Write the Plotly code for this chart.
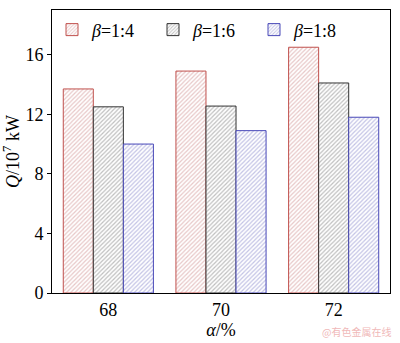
import plotly.graph_objects as go

categories = ["68", "70", "72"]
series_names = ["<i>β</i>=1:4", "<i>β</i>=1:6", "<i>β</i>=1:8"]
q_b4 = [13.7, 14.9, 16.5]
q_b6 = [12.5, 12.55, 14.1]
q_b8 = [10.0, 10.9, 11.8]
y_ticks = [0, 4, 8, 12, 16]

line_colors = ["#c0504d", "#333333", "#4848b8"]
hatch_colors = ["#d09090", "#808080", "#8888cc"]

fig = go.Figure()
for name, vals, lc, hc in zip(series_names, [q_b4, q_b6, q_b8], line_colors, hatch_colors):
    fig.add_trace(go.Bar(
        x=categories, y=vals, name=name,
        marker=dict(color="white", line=dict(color=lc, width=1),
                    pattern=dict(shape="/", fgcolor=hc, bgcolor="white", size=3, solidity=0.4)),
    ))

font_serif = "'Times New Roman', 'Liberation Serif', 'DejaVu Serif', serif"
fig.update_layout(
    width=400, height=343,
    margin=dict(l=44, r=9, t=9, b=49),
    paper_bgcolor="white", plot_bgcolor="white",
    barmode="group", bargap=0.2, bargroupgap=0,
    font=dict(family=font_serif, size=18, color="black"),
    legend=dict(orientation="h", x=0.0, y=0.995, xanchor="left", yanchor="top",
                bgcolor="rgba(0,0,0,0)", font=dict(family=font_serif, size=18), itemwidth=30,
                tracegroupgap=0, entrywidth=56),
    showlegend=True,
    xaxis=dict(showline=True, linecolor="black", linewidth=1, mirror=True,
               ticks="", tickfont=dict(family=font_serif, size=18), range=[-0.5, 2.5],
               title=dict(text="<i>α</i>/%", font=dict(family=font_serif, size=18), standoff=2)),
    yaxis=dict(showline=True, linecolor="black", linewidth=1, mirror=True,
               range=[0, 19], tickvals=y_ticks, ticks="outside", ticklen=4,
               tickcolor="black", tickfont=dict(family=font_serif, size=18), showgrid=False, zeroline=False,
               title=dict(text="<i>Q</i>/10<sup>7</sup> kW", font=dict(family=font_serif, size=18), standoff=4)),
    annotations=[dict(text="@有色金属在线", xref="paper", yref="paper", x=1.01, y=-0.135,
                      xanchor="right", yanchor="middle", showarrow=False,
                      font=dict(family="Noto Sans CJK SC", size=10, color="#f0b8b8"))],
)
fig.write_html("out.html")
